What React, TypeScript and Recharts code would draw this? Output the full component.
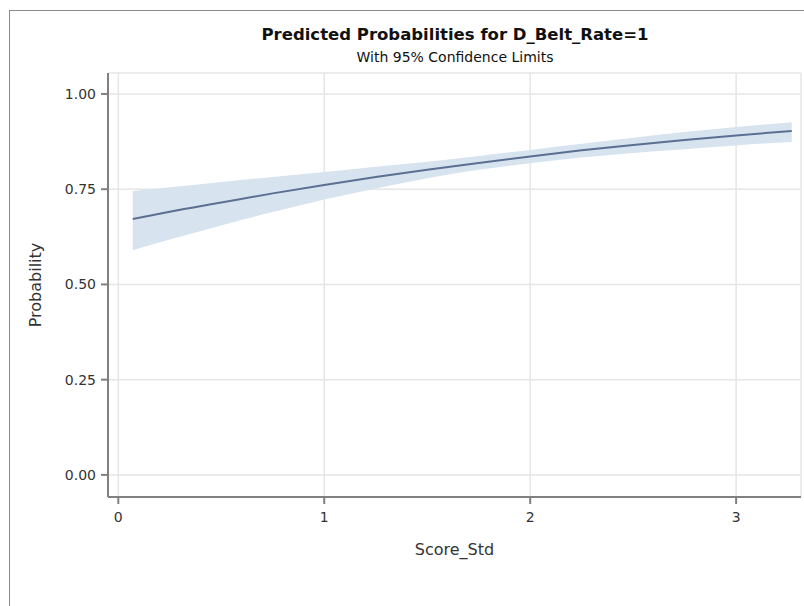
import { ComposedChart, Area, Line, XAxis, YAxis, CartesianGrid } from 'recharts';

// Score_Std values along the fitted curve
const scoreStd = [0.07, 0.25, 0.5, 0.75, 1.0, 1.25, 1.5, 1.75, 2.0, 2.25, 2.5, 2.75, 3.0, 3.27];
// predicted probability for D_Belt_Rate=1
const predicted = [0.672, 0.691, 0.715, 0.739, 0.761, 0.782, 0.801, 0.819, 0.836, 0.852, 0.866, 0.879, 0.891, 0.903];
// 95% confidence limits
const lowerCL = [0.59, 0.618, 0.655, 0.69, 0.723, 0.752, 0.779, 0.801, 0.818, 0.833, 0.845, 0.855, 0.865, 0.874];
const upperCL = [0.745, 0.755, 0.769, 0.782, 0.795, 0.809, 0.822, 0.837, 0.853, 0.869, 0.885, 0.9, 0.913, 0.926];

const xTicks = [0, 1, 2, 3];
const yTicks = [0, 0.25, 0.5, 0.75, 1];

const data = scoreStd.map((x, i) => ({
  x,
  p: predicted[i],
  band: [lowerCL[i], upperCL[i]],
}));

const FONT = '"DejaVu Sans", sans-serif';
const AXIS = '#808080';
const tickStyle = { fill: '#333', fontSize: 14, fontFamily: FONT };

export default function App() {
  return (
    <div style={{ position: 'absolute', left: 0, top: 0, width: 804, height: 606, overflow: 'hidden', background: '#fff' }}>
      <div style={{ position: 'absolute', left: 9, top: 10, width: 900, height: 700, border: '1px solid #8a8a8a' }} />
      <div
        style={{
          position: 'absolute', left: 0, width: 910, top: 25, textAlign: 'center',
          fontFamily: FONT, fontWeight: 'bold', fontSize: 16.5, lineHeight: '20px', color: '#111',
        }}
      >
        Predicted Probabilities for D_Belt_Rate=1
      </div>
      <div
        style={{
          position: 'absolute', left: 0, width: 910, top: 49, textAlign: 'center',
          fontFamily: FONT, fontSize: 14, lineHeight: '17px', color: '#111',
        }}
      >
        With 95% Confidence Limits
      </div>
      <div style={{ position: 'absolute', left: 0, top: 0 }}>
        <ComposedChart width={804} height={606} data={data} margin={{ top: 73, right: 3, left: 0, bottom: 69 }}>
          <CartesianGrid stroke="#e6e6e6" strokeWidth={1.5} />
          <XAxis
            dataKey="x"
            type="number"
            domain={[-0.05, 3.315]}
            ticks={xTicks}
            allowDataOverflow
            height={40}
            tick={tickStyle}
            tickSize={7}
            tickMargin={8}
            stroke={AXIS}
            strokeWidth={2}
            label={{ value: 'Score_Std', position: 'bottom', offset: 7, style: { fill: '#333', fontSize: 16, fontFamily: FONT } }}
          />
          <XAxis xAxisId="top" orientation="top" type="number" domain={[-0.05, 3.315]} height={0} tick={false} tickLine={false} stroke={AXIS} strokeWidth={2} />
          <YAxis
            type="number"
            domain={[-0.058, 1.055]}
            ticks={yTicks}
            allowDataOverflow
            width={108}
            tick={tickStyle}
            tickSize={7}
            tickMargin={5}
            tickFormatter={(v: number) => v.toFixed(2)}
            stroke={AXIS}
            strokeWidth={2}
            label={{
              content: (props: any) => {
                const vb = props.viewBox || { y: 73, height: 424 };
                const cy = vb.y + vb.height / 2;
                return (
                  <text x={35} y={cy} transform={`rotate(-90 35 ${cy})`} textAnchor="middle" dominantBaseline="central" fill="#333" fontSize={16} fontFamily={FONT}>
                    Probability
                  </text>
                );
              },
            }}
          />
          <YAxis yAxisId="right" orientation="right" width={0} tick={false} tickLine={false} stroke={AXIS} strokeWidth={2} />
          <Area dataKey="band" type="monotone" fill="#d8e3f0" fillOpacity={1} stroke="none" isAnimationActive={false} />
          <Line dataKey="p" type="monotone" stroke="#5b6f92" strokeWidth={2} dot={false} isAnimationActive={false} />
        </ComposedChart>
      </div>
    </div>
  );
}
